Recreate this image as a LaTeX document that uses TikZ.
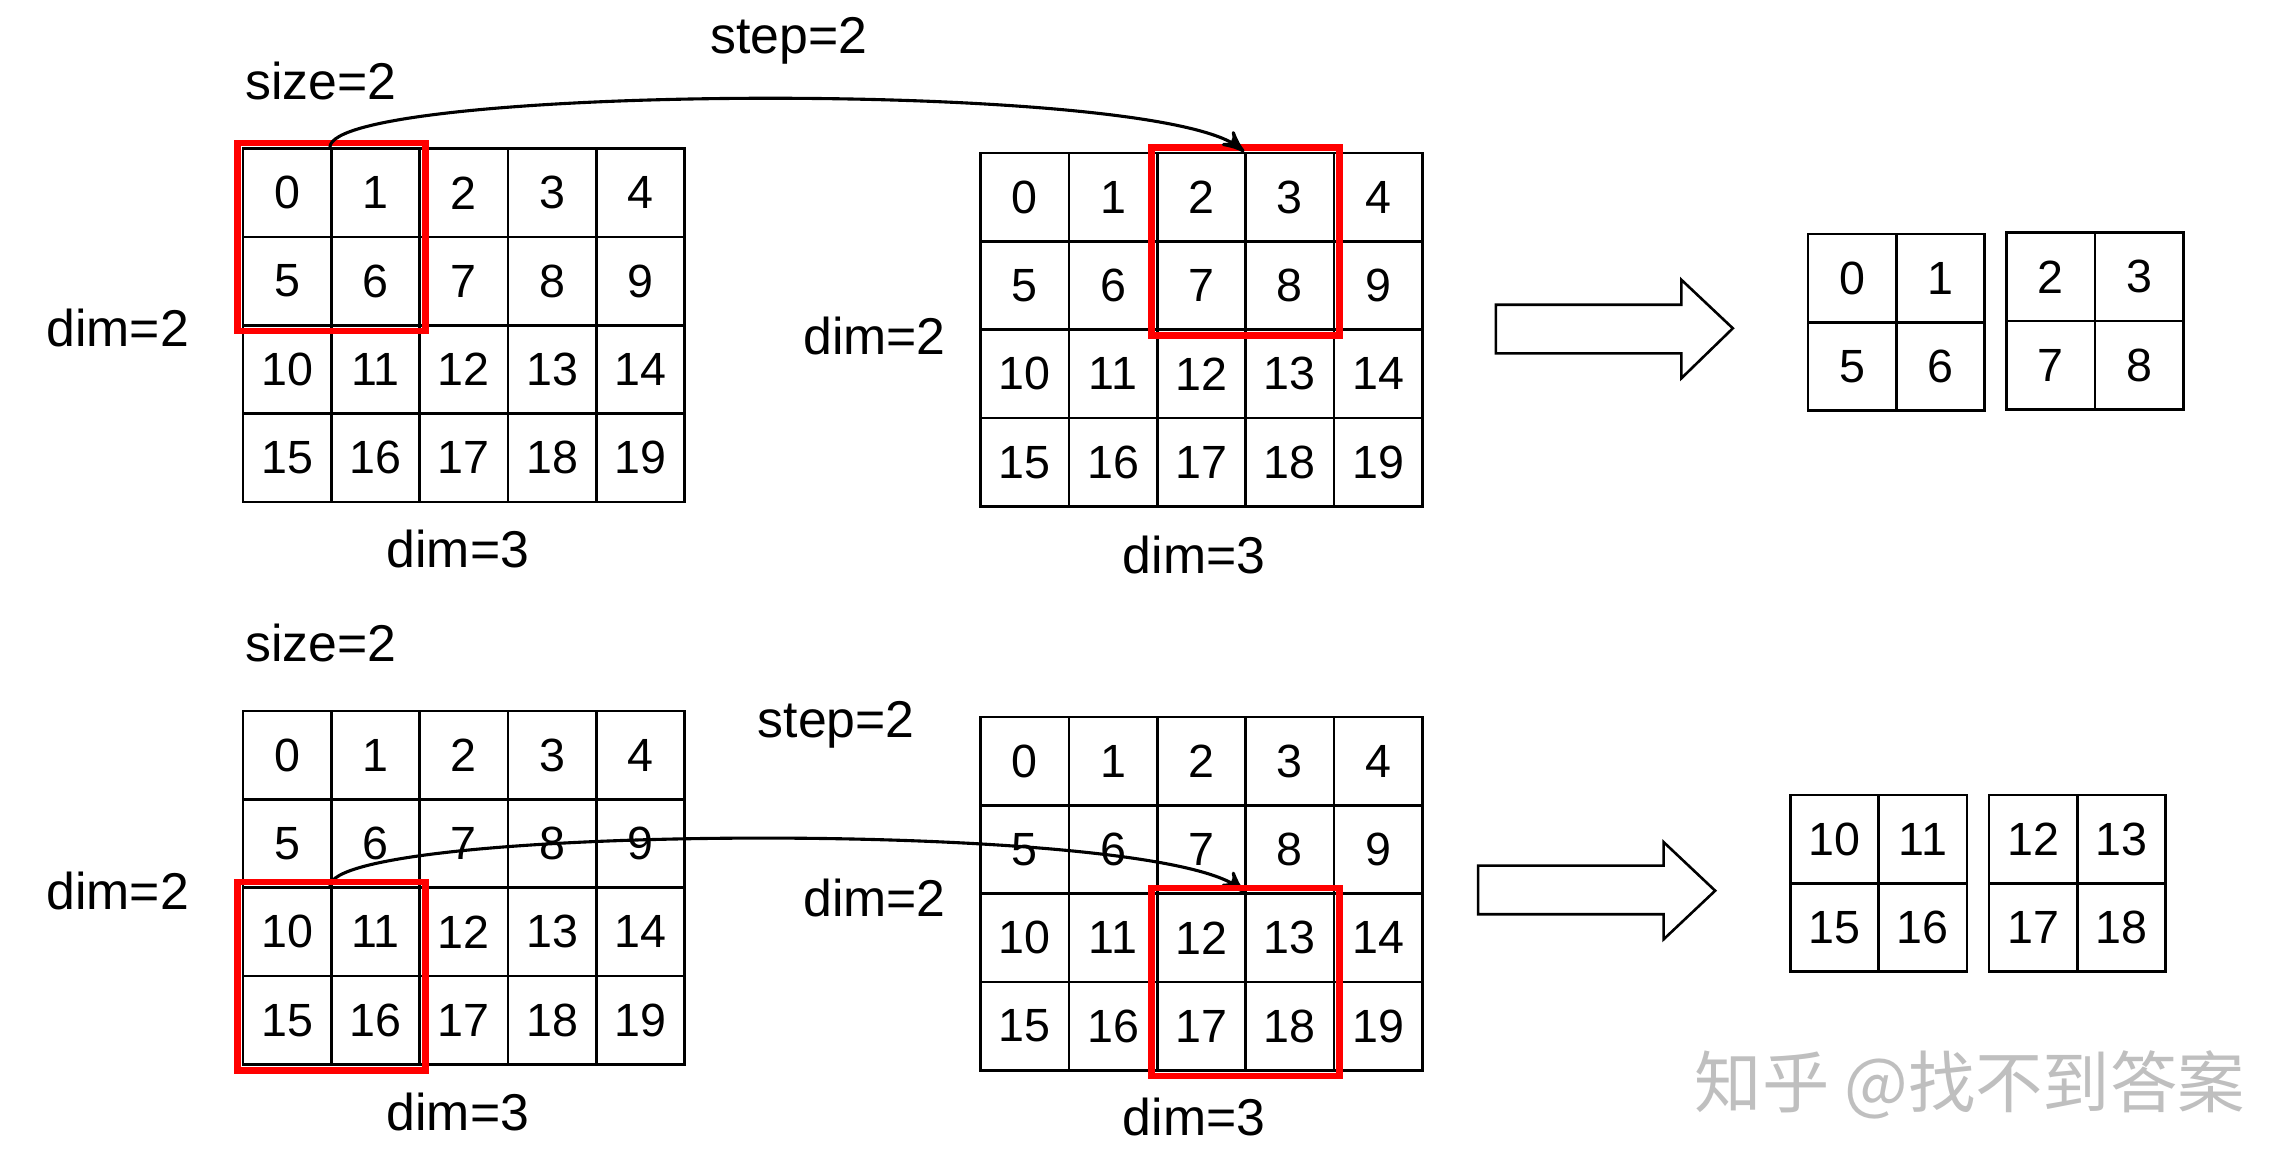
\documentclass[tikz,border=0pt]{standalone}
\usepackage{fontspec}
\setmainfont{Liberation Sans}
\newfontfamily\cjk{Noto Sans CJK SC}
\usetikzlibrary{arrows,fit,positioning}
\tikzset{>=stealth',
  cell/.style={draw,line width=0.5pt,minimum width=0.6cm,minimum height=0.6cm,inner sep=0pt,font=\fontsize{9}{10}\selectfont},
  redbox/.style={draw=red,line width=1.3pt,inner sep=0.03cm},
  lbl/.style={font=\fontsize{10}{12}\selectfont},
  fat/.style={draw,line width=0.5pt,fill=white}}
% full 4x5 grid, name #1, top-left cell centre at (#2,#3)
\newcommand{\numgrid}[3]{%
  \foreach \r in {0,...,3}{\foreach \c in {0,...,4}{%
    \pgfmathtruncatemacro{\v}{5*\r+\c}
    \node[cell] (#1-\r-\c) at (#2+60*\c,#3+60*\r) {\v};}}}
% 2x2 piece, name #1, top-left centre (#2,#3), entries #4
\newcommand{\piece}[4]{%
  \foreach \t [count=\i from 0] in {#4}{%
    \pgfmathtruncatemacro{\r}{\i/2}\pgfmathtruncatemacro{\c}{mod(\i,2)}
    \node[cell] (#1-\r-\c) at (#2+60*\c,#3+60*\r) {\t};}}
\begin{document}
\begin{tikzpicture}[x=0.01cm,y=-0.01cm]
\useasboundingbox (0,0) rectangle (1550,791);
% top row
\numgrid{a}{195}{131}
\numgrid{b}{696}{134}
\node[redbox,fit=(a-0-0)(a-1-1)] (ra) {};
\node[redbox,fit=(b-0-2)(b-1-3)] (rb) {};
\node[lbl] (sa) at (218,55) {size=2};
\node[lbl] (ta) at (536,28) {step=2};
\node[lbl] (da) at (80,223) {dim=2};
\node[lbl] (ea) at (311,373) {dim=3};
\node[lbl] (db) at (594,228) {dim=2};
\node[lbl] (eb) at (811,377) {dim=3};
\draw[->,line width=0.6pt] (a-0-1.north west) .. controls +(0,-42) and +(-60,-50) .. (b-0-3.north west);
\draw[fat] (1016,207) -- (1142,207) -- (1142,190) -- (1177,223) -- (1142,257) -- (1142,240) -- (1016,240) -- cycle;
\piece{p}{1258}{189}{0,1,5,6}
\piece{q}{1393}{188}{2,3,7,8}
% bottom row
\numgrid{c}{195}{513}
\numgrid{d}{696}{517}
\node[lbl] (sc) at (218,437) {size=2};
\node[lbl] (tc) at (568,492) {step=2};
\node[lbl] (dc) at (80,605) {dim=2};
\node[lbl] (ec) at (311,755) {dim=3};
\node[lbl] (dd) at (594,610) {dim=2};
\node[lbl] (ed) at (811,759) {dim=3};
\draw[->,line width=0.6pt] (c-2-1.north west) .. controls +(0,-42) and +(-60,-50) .. (d-2-3.north west);
\node[redbox,fit=(c-2-0)(c-3-1)] (rc) {};
\node[redbox,fit=(d-2-2)(d-3-3)] (rd) {};
\draw[fat] (1004,588) -- (1130,588) -- (1130,572) -- (1165,605) -- (1130,638) -- (1130,621) -- (1004,621) -- cycle;
\piece{u}{1246}{570}{10,11,15,16}
\piece{w}{1381}{570}{12,13,17,18}
\node[text=black!25,font=\cjk\fontsize{13}{15}\selectfont] (wm) at (1338,737) {知乎 @找不到答案};
\end{tikzpicture}
\end{document}
